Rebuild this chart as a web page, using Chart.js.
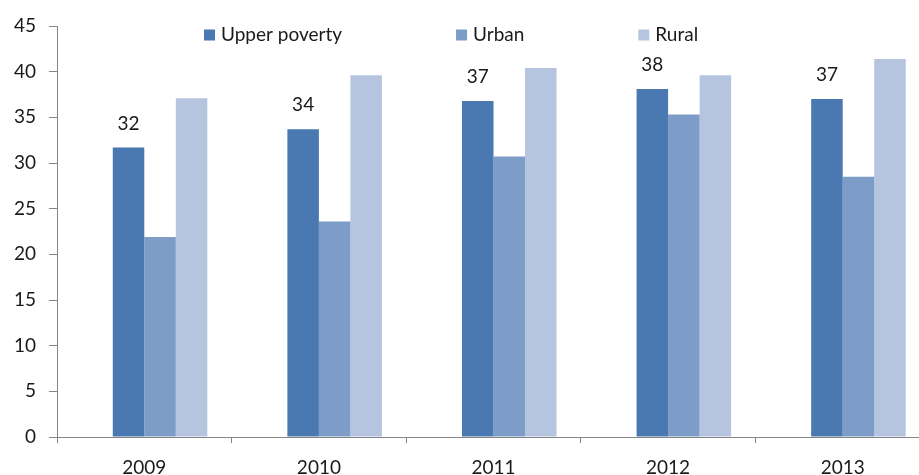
<!DOCTYPE html>
<html>
<head>
<meta charset="utf-8">
<script src="https://cdn.jsdelivr.net/npm/chart.js@4/dist/chart.umd.min.js"></script>
<style>
  html, body { margin: 0; padding: 0; background: #fff; overflow: hidden; }
  #wrap { width: 932px; height: 500px; }
</style>
</head>
<body>
<div id="wrap"><canvas id="myChart"></canvas></div>
<script>
// data
var years = ['2009', '2010', '2011', '2012', '2013'];
var upperPoverty = [31.7, 33.7, 36.8, 38.1, 37.0];
var urban = [21.9, 23.6, 30.7, 35.3, 28.5];
var rural = [37.1, 39.6, 40.4, 39.6, 41.4];
// empty first slot in each group (the bars sit right of the category centre)
var emptySlot = [null, null, null, null, null];
var yTicks = [0, 5, 10, 15, 20, 25, 30, 35, 40, 45];

var font = { family: 'Lato', size: 19 };
var textColor = '#1a1a1a';
var axisColor = '#868686';

// labels above the Upper poverty bars, rounded
var barLabels = {
  id: 'barLabels',
  afterDatasetsDraw: function (chart) {
    var ctx = chart.ctx;
    var meta = chart.getDatasetMeta(1);
    ctx.save();
    ctx.font = font.size + 'px ' + font.family;
    ctx.fillStyle = textColor;
    ctx.textAlign = 'center';
    ctx.textBaseline = 'middle';
    meta.data.forEach(function (bar, i) {
      ctx.fillText(String(Math.round(upperPoverty[i])), bar.x, bar.y - 24);
    });
    ctx.restore();
  }
};

// legend drawn inside the plot area, like the original
var insideLegend = {
  id: 'insideLegend',
  afterDraw: function (chart) {
    var ctx = chart.ctx;
    var x = 204, y = 35, box = 11, gap = 114;
    ctx.save();
    ctx.font = font.size + 'px ' + font.family;
    ctx.textBaseline = 'middle';
    ctx.textAlign = 'left';
    chart.data.datasets.forEach(function (ds) {
      if (!ds.label) return;
      ctx.fillStyle = ds.backgroundColor;
      ctx.fillRect(x, y - box / 2, box, box);
      ctx.fillStyle = textColor;
      ctx.fillText(ds.label, x + box + 6, y);
      x += box + 6 + ctx.measureText(ds.label).width + gap;
    });
    ctx.restore();
  }
};

var chart = new Chart(document.getElementById('myChart'), {
  type: 'bar',
  data: {
    labels: years,
    datasets: [
      { label: '', data: emptySlot, backgroundColor: 'rgba(0,0,0,0)' },
      { label: 'Upper poverty', data: upperPoverty, backgroundColor: '#4a78b0' },
      { label: 'Urban', data: urban, backgroundColor: '#7e9cc8' },
      { label: 'Rural', data: rural, backgroundColor: '#b5c4df' }
    ]
  },
  options: {
    responsive: true,
    maintainAspectRatio: false,
    animation: false,
    layout: { padding: { top: 26, right: 2, left: 0, bottom: 0 } },
    datasets: {
      bar: { barPercentage: 1, categoryPercentage: 0.722, borderWidth: 0 }
    },
    plugins: {
      legend: { display: false },
      tooltip: { enabled: false }
    },
    scales: {
      x: {
        grid: { display: true, drawOnChartArea: false, tickLength: 6, color: axisColor },
        border: { display: true, color: axisColor },
        ticks: { font: font, color: textColor, padding: 13, maxRotation: 0 },
        afterFit: function (axis) { axis.height = 500 - 437; }
      },
      y: {
        min: 0,
        max: 45,
        afterBuildTicks: function (axis) {
          axis.ticks = yTicks.map(function (v) { return { value: v }; });
        },
        grid: { display: true, drawOnChartArea: false, tickLength: 8, color: axisColor },
        border: { display: true, color: axisColor },
        ticks: { font: font, color: textColor, padding: 13 },
        afterFit: function (axis) { axis.width = 57; }
      }
    }
  },
  plugins: [barLabels, insideLegend]
});
</script>
</body>
</html>
